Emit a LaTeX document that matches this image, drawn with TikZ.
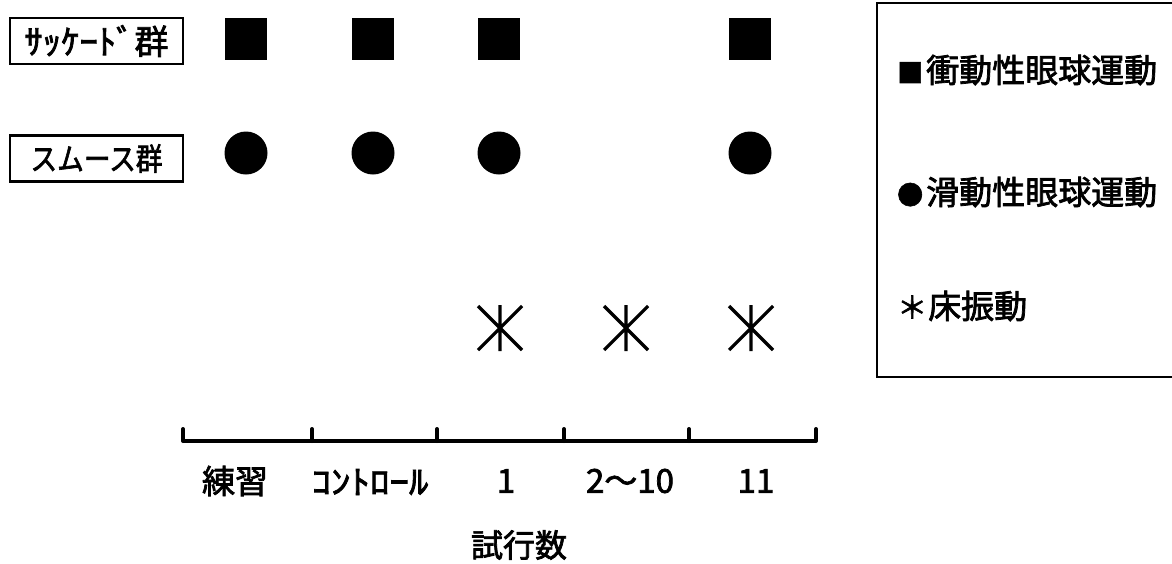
\documentclass[tikz,border=0pt]{standalone}
\usepackage{graphicx}
\usepackage{fontspec}
\newfontfamily\jp[FakeBold=2.2]{Noto Sans CJK JP}
\newcommand{\jpsize}[1]{\jp\fontsize{#1}{#1}\selectfont}
\begin{document}
\begin{tikzpicture}[x=1pt,y=-1pt,
  grouplabel/.style={draw, line width=2.4pt, inner sep=0pt, minimum width=173pt,
    minimum height=46pt},
  sqmark/.style={fill=black, minimum size=42pt, inner sep=0pt},
  dotmark/.style={circle, fill=black, minimum size=43pt, inner sep=0pt},
  axisline/.style={line width=4pt},
  ticklabel/.style={font=\jpsize{33}, inner sep=0pt},
  legtext/.style={font=\jpsize{33}, inner sep=0pt, anchor=west},
  astmark/.pic={
    \draw[line width=3.2pt] (0,-23) -- (0,23)
      (-22,-22) -- (22,22) (-22,22) -- (22,-22);
  }]
\useasboundingbox (0,0) rectangle (1172,563);

% group labels
\node[grouplabel, font=\jpsize{34}] (sac) at (96.5,41)
  {\scalebox{1.08}[1]{ｻｯｹｰﾄﾞ}群};
\node[grouplabel, font=\jpsize{31}] (smo) at (96.5,158.5)
  {\scalebox{0.86}[1]{スムース群}};

% saccade markers
\node[sqmark] (s1) at (246,39) {};
\node[sqmark] (s2) at (373,39) {};
\node[sqmark] (s3) at (499,39) {};
\node[sqmark] (s5) at (750,39) {};

% smooth pursuit markers
\node[dotmark] (c1) at (246,153) {};
\node[dotmark] (c2) at (373,153) {};
\node[dotmark] (c3) at (499,153) {};
\node[dotmark] (c5) at (750,153) {};

% floor vibration markers
\pic at (500,328) {astmark};
\pic at (626,328) {astmark};
\pic at (751,328) {astmark};

% trial axis
\foreach \i/\x in {0/183,1/312,2/437,3/564,4/689,5/816}
  \coordinate (t\i) at (\x,441);
\draw[axisline] (t0) -- (t5);
\foreach \i in {0,...,5}
  \draw[axisline, line cap=round] (t\i) -- ++(0,-12);

\node[ticklabel] (k1) at (235,481) {練習};
\node[ticklabel] (k2) at (370,482) {\scalebox{1.18}[1]{ｺﾝﾄﾛｰﾙ}};
\node[ticklabel] (k3) at (506,481) {1};
\node[ticklabel] (k4) at (630,481) {2〜10};
\node[ticklabel] (k5) at (756,481) {11};
\node[ticklabel, font=\jpsize{32}] (xt) at (519,545) {試行数};

% legend
\draw[line width=2pt] (877,3) rectangle (1190,377);
\node[legtext] (l1) at (897,70) {{\jpsize{26}■}\kern3pt衝動性眼球運動};
\node[legtext] (l2) at (897,192) {{\jpsize{26}●}\kern3pt滑動性眼球運動};
\node[legtext] (l3) at (897,306) {{\jpsize{30}＊}\kern1pt床振動};
\end{tikzpicture}
\end{document}
